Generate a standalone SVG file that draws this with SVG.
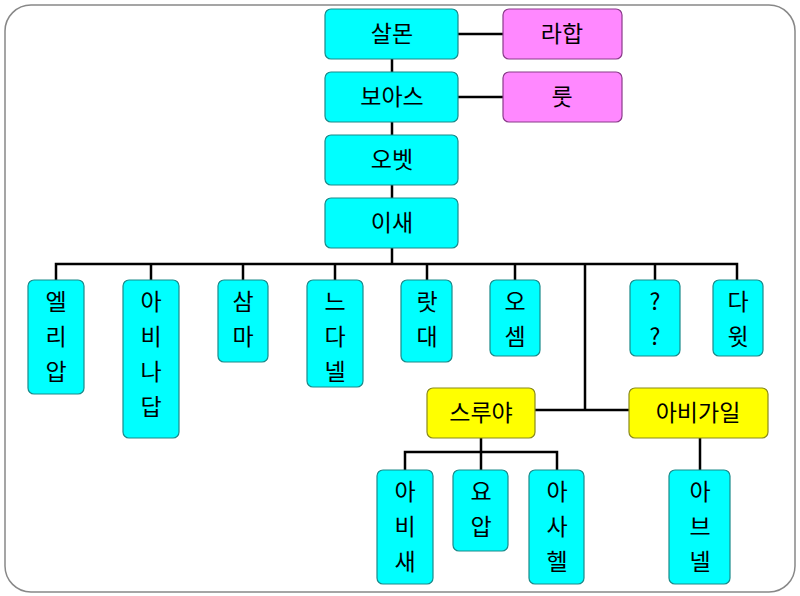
<svg xmlns="http://www.w3.org/2000/svg" width="800" height="596" viewBox="0 0 800 596">
<style>
.c{fill:#00ffff;stroke:#1a8a8a;stroke-width:1.2}
.p{fill:#ff88ff;stroke:#8a3a8a;stroke-width:1.2}
.y{fill:#ffff00;stroke:#8a8a1a;stroke-width:1.2}
text{font-family:"Noto Sans CJK KR","Noto Sans",sans-serif;font-size:23px;fill:#000;text-anchor:middle}
#connectors path{fill:none;stroke:#000;stroke-width:2.5}
</style>
<rect x="5" y="5" width="790" height="587" rx="26" fill="#fff" stroke="#888" stroke-width="1.5"/>
<g id="connectors">
<path d="M458 34H503M458 97H503M392 59V72M392 122V135M392 185V198M392 248V264"/>
<path d="M56 280V264H737V280M151 264V280M243 264V280M335 264V280M427 264V280M515 264V280M655 264V280M585 264V410M535 410H629"/>
<path d="M481 438V452M405 470V452H557V470M481 452V470M700 438V470"/>
</g>
<g id="n1"><rect class="c" x="325" y="9" width="133" height="50" rx="6"/><text x="392" y="42">살몬</text></g>
<g id="n2"><rect class="p" x="503" y="9" width="119" height="50" rx="6"/><text x="562" y="42">라합</text></g>
<g id="n3"><rect class="c" x="325" y="72" width="133" height="50" rx="6"/><text x="392" y="105">보아스</text></g>
<g id="n4"><rect class="p" x="503" y="72" width="119" height="50" rx="6"/><text x="562" y="105">룻</text></g>
<g id="n5"><rect class="c" x="325" y="135" width="133" height="50" rx="6"/><text x="392" y="168">오벳</text></g>
<g id="n6"><rect class="c" x="325" y="198" width="133" height="50" rx="6"/><text x="392" y="231">이새</text></g>
<g id="n7"><rect class="c" x="28" y="280" width="56" height="114" rx="6"/><text x="56" y="310">엘</text><text x="56" y="345">리</text><text x="56" y="380">압</text></g>
<g id="n8"><rect class="c" x="123" y="280" width="56" height="158" rx="6"/><text x="151" y="310">아</text><text x="151" y="345">비</text><text x="151" y="380">나</text><text x="151" y="415">답</text></g>
<g id="n9"><rect class="c" x="218" y="280" width="50" height="82" rx="6"/><text x="243" y="310">삼</text><text x="243" y="345">마</text></g>
<g id="n10"><rect class="c" x="307" y="280" width="56" height="107" rx="6"/><text x="335" y="310">느</text><text x="335" y="345">다</text><text x="335" y="380">넬</text></g>
<g id="n11"><rect class="c" x="401" y="280" width="51" height="82" rx="6"/><text x="427" y="310">랏</text><text x="427" y="345">대</text></g>
<g id="n12"><rect class="c" x="490" y="280" width="50" height="76" rx="6"/><text x="515" y="310">오</text><text x="515" y="345">셈</text></g>
<g id="n13"><rect class="c" x="630" y="280" width="50" height="76" rx="6"/><text x="655" y="310">?</text><text x="655" y="345">?</text></g>
<g id="n14"><rect class="c" x="713" y="280" width="50" height="76" rx="6"/><text x="738" y="310">다</text><text x="738" y="345">윗</text></g>
<g id="n15"><rect class="y" x="427" y="388" width="108" height="50" rx="6"/><text x="481" y="421">스루야</text></g>
<g id="n16"><rect class="y" x="629" y="388" width="139" height="50" rx="6"/><text x="698" y="421">아비가일</text></g>
<g id="n17"><rect class="c" x="377" y="470" width="56" height="114" rx="6"/><text x="405" y="500">아</text><text x="405" y="535">비</text><text x="405" y="570">새</text></g>
<g id="n18"><rect class="c" x="453" y="470" width="55" height="81" rx="6"/><text x="481" y="500">요</text><text x="481" y="535">압</text></g>
<g id="n19"><rect class="c" x="529" y="470" width="55" height="114" rx="6"/><text x="557" y="500">아</text><text x="557" y="535">사</text><text x="557" y="570">헬</text></g>
<g id="n20"><rect class="c" x="669" y="470" width="61" height="114" rx="6"/><text x="700" y="500">아</text><text x="700" y="535">브</text><text x="700" y="570">넬</text></g>
</svg>
